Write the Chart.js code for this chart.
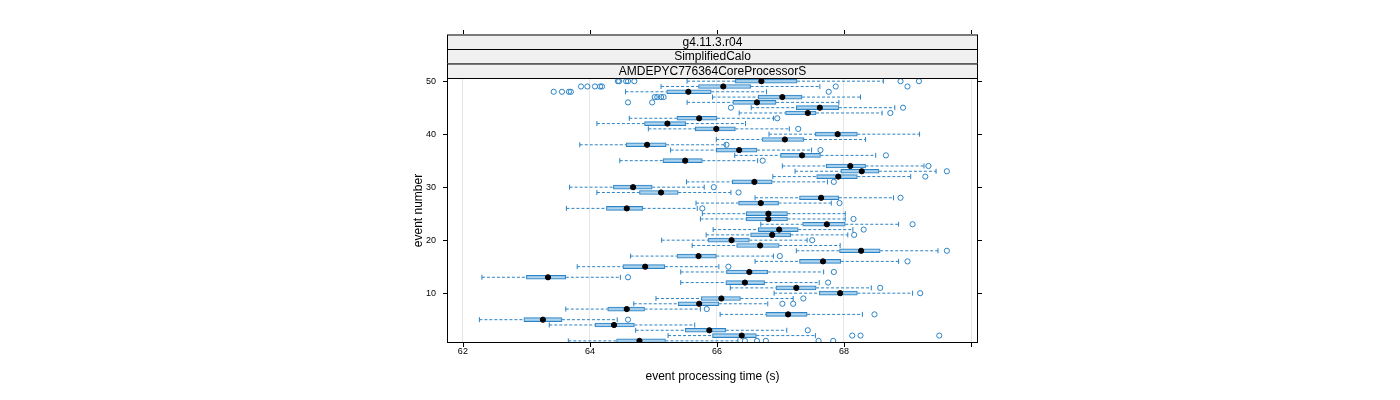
<!DOCTYPE html>
<html><head><meta charset="utf-8">
<script src="https://cdn.jsdelivr.net/npm/chart.js@4"></script>
<style>html,body{margin:0;padding:0;background:#fff}#w{width:1400px;height:400px}</style>
</head><body><div id="w"><canvas id="c"></canvas></div>
<script>
const events=[];for(let i=1;i<=50;i++)events.push(i);
const lo =[63.66,65.23,64.72,63.36,62.26,66.05,63.62,64.69,65.04,66.9,66.21,65.43,62.3,65.43,63.8,66.6,64.64,67.25,65.61,65.13,65.83,65.94,66.69,65.74,65.77,63.63,65.67,66.6,64.11,63.68,65.52,66.88,67.23,67.03,64.47,66.28,65.27,63.84,65.99,66.82,64.92,64.11,64.62,66.35,66.54,65.53,65.93,64.56,65.12,65.53];
const q1 =[64.42,65.93,65.5,64.08,62.96,66.77,64.28,65.39,65.75,67.61,66.93,66.14,63.0,66.15,64.52,67.3,65.37,67.93,66.31,65.86,66.53,66.65,67.35,66.46,66.46,64.26,66.34,67.3,64.78,64.37,66.24,67.57,67.95,67.72,65.15,67.0,65.99,64.57,66.71,67.55,65.66,64.86,65.37,67.08,67.25,66.25,66.65,65.21,65.71,66.29];
const med=[64.78,66.39,65.88,64.38,63.26,67.12,64.58,65.72,66.07,67.94,67.25,66.44,63.34,66.51,64.87,67.67,65.71,68.27,66.68,66.23,66.87,66.98,67.73,66.81,66.81,64.58,66.69,67.64,65.12,64.68,66.59,67.91,68.28,68.1,65.5,67.34,66.35,64.9,67.07,67.9,65.99,65.22,65.72,67.43,67.62,66.63,67.03,65.55,66.1,66.7];
const q3 =[65.19,66.62,66.14,64.7,63.56,67.42,64.86,66.03,66.37,68.21,67.56,66.75,63.62,66.8,65.18,67.95,65.99,68.57,66.98,66.51,67.16,67.28,68.02,67.11,67.11,64.83,66.97,67.92,65.39,64.98,66.87,68.21,68.55,68.34,65.77,67.63,66.63,65.2,67.37,68.21,66.29,65.51,66.0,67.56,67.92,66.93,67.34,65.91,66.53,67.26];
const hi =[66.33,67.55,67.1,65.65,64.43,68.29,65.74,66.8,67.2,69.08,68.43,67.61,64.48,67.68,66.03,68.86,66.89,69.48,67.94,67.42,68.06,68.14,68.86,68.02,68.02,65.69,67.8,68.78,66.22,65.8,67.74,69.05,69.45,69.26,66.64,68.5,67.49,66.13,68.34,69.19,67.14,66.45,66.89,68.6,68.8,67.92,68.26,66.78,67.62,68.62];
const outEvent=[1,1,1,1,1,2,2,2,3,5,6,7,8,8,9,10,11,12,13,14,15,16,17,18,20,21,22,23,24,26,27,28,29,30,31,32,33,34,35,36,37,38,41,43,44,45,45,46,46,47,47,47,47,48,48,48,48,48,49,49,49,49,49,49,49,50,50,50,50,50,50,50];
const outValue=[66.44,66.63,66.77,67.6,67.83,68.13,68.26,69.5,67.43,64.6,68.48,65.84,67.03,67.2,67.36,69.2,68.57,67.75,64.6,67.84,66.18,69.0,66.99,69.62,67.5,68.16,68.31,69.08,68.15,65.77,67.93,68.89,66.34,65.95,67.84,69.28,69.62,69.33,66.72,68.66,67.63,66.15,67.28,66.95,68.73,66.22,68.93,64.6,64.98,65.02,65.06,65.12,65.16,63.43,63.56,63.67,63.7,67.76,63.86,63.96,64.08,64.16,64.19,67.87,69.0,64.44,64.46,64.57,64.6,64.7,68.89,69.18];
const stripLabels=["g4.11.3.r04","SimplifiedCalo","AMDEPYC776364CoreProcessorS"];
const xTicks=[62,64,66,68,70];
const yTicks=[10,20,30,40,50];

const blue='#2b83c6';
const boxes=events.map((e,i)=>({y:e,x:[q1[i],q3[i]]}));
const whiskSets=[];
events.forEach((e,i)=>{
 whiskSets.push({type:'line',data:[{x:lo[i],y:e},{x:q1[i],y:e}],borderColor:blue,borderWidth:1,borderDash:[3,2],pointRadius:0,fill:false,order:3});
 whiskSets.push({type:'line',data:[{x:q3[i],y:e},{x:hi[i],y:e}],borderColor:blue,borderWidth:1,borderDash:[3,2],pointRadius:0,fill:false,order:3});
});
const caps=[];events.forEach((e,i)=>{caps.push({x:lo[i],y:e},{x:hi[i],y:e});});
const meds=events.map((e,i)=>({x:med[i],y:e}));
const outs=outEvent.map((e,i)=>({x:outValue[i],y:e}));

const strips={id:'strips',afterDraw(ch){const c=ch.ctx,a=ch.chartArea;const h=14.5;
 c.save();c.font='12px "Liberation Sans", Arial, sans-serif';c.textAlign='center';c.textBaseline='middle';
 for(let k=0;k<3;k++){const y=a.top-(3-k)*h;c.fillStyle='#f0f0f0';c.fillRect(a.left,y,a.right-a.left,h);
  c.strokeStyle='#000';c.lineWidth=1;c.strokeRect(a.left+0.5,y+0.5,a.right-a.left-1,h);
  c.fillStyle='#000';c.fillText(stripLabels[k],(a.left+a.right)/2,y+h/2+0.5);}
 c.strokeStyle='#000';c.strokeRect(a.left+0.5,a.top+0.5,a.right-a.left-1,a.bottom-a.top-1);c.restore();}};

const tickFont={size:9,family:'"Liberation Sans", Arial, sans-serif'};
new Chart(document.getElementById('c'),{
 data:{datasets:[
  ...whiskSets,
  {type:'scatter',data:caps,pointStyle:'line',rotation:90,radius:2.5,borderColor:blue,borderWidth:1,order:3},
  {type:'bar',data:boxes,backgroundColor:'rgba(160,205,235,0.85)',borderColor:blue,borderWidth:1,borderSkipped:false,barThickness:4,order:2},
  {type:'scatter',data:meds,pointRadius:2.6,backgroundColor:'#000',borderColor:'#000',order:1},
  {type:'scatter',data:outs,pointRadius:2.6,backgroundColor:'rgba(0,0,0,0)',borderColor:blue,borderWidth:1,order:1}
 ]},
 options:{indexAxis:'y',responsive:true,maintainAspectRatio:false,animation:false,
  layout:{padding:{left:407,right:422,top:78,bottom:12}},
  plugins:{legend:{display:false},tooltip:{enabled:false}},
  scales:{
   x:{type:'linear',position:'bottom',min:61.75,max:70.11,offset:false,afterBuildTicks:s=>{s.ticks=xTicks.map(v=>({value:v}))},
      ticks:{font:tickFont,color:'#000',callback:v=>v===70?'':v,maxRotation:0},
      grid:{color:'#e6e6e6',drawTicks:false},border:{display:false},
      title:{display:true,text:'event processing time (s)',font:{size:12,family:'"Liberation Sans", Arial, sans-serif'},color:'#000'},
      afterFit:s=>{s.height=45}},
   x2:{type:'linear',position:'top',min:61.75,max:70.11,display:false},
   y:{type:'linear',position:'left',min:0.6,max:50.6,offset:false,afterBuildTicks:s=>{s.ticks=yTicks.map(v=>({value:v}))},
      ticks:{font:tickFont,color:'#000'},grid:{display:false},border:{display:false},
      title:{display:true,text:'event number',font:{size:12,family:'"Liberation Sans", Arial, sans-serif'},color:'#000'},
      afterFit:s=>{s.width=40}},
   y2:{type:'linear',position:'right',min:0.6,max:50.6,display:false}
  }},
 plugins:[strips,{id:'tk',afterDraw(ch){const c=ch.ctx,a=ch.chartArea,sx=ch.scales.x,sy=ch.scales.y;c.save();c.strokeStyle='#000';c.lineWidth=1;c.beginPath();
  xTicks.forEach(v=>{const p=Math.round(sx.getPixelForValue(v))+0.5;c.moveTo(p,a.bottom);c.lineTo(p,a.bottom+4);c.moveTo(p,a.top-44);c.lineTo(p,a.top-48);});
  yTicks.forEach(v=>{const p=Math.round(sy.getPixelForValue(v))+0.5;c.moveTo(a.left,p);c.lineTo(a.left-4,p);c.moveTo(a.right,p);c.lineTo(a.right+4,p);});
  c.stroke();c.restore();}}]
});
</script></body></html>
